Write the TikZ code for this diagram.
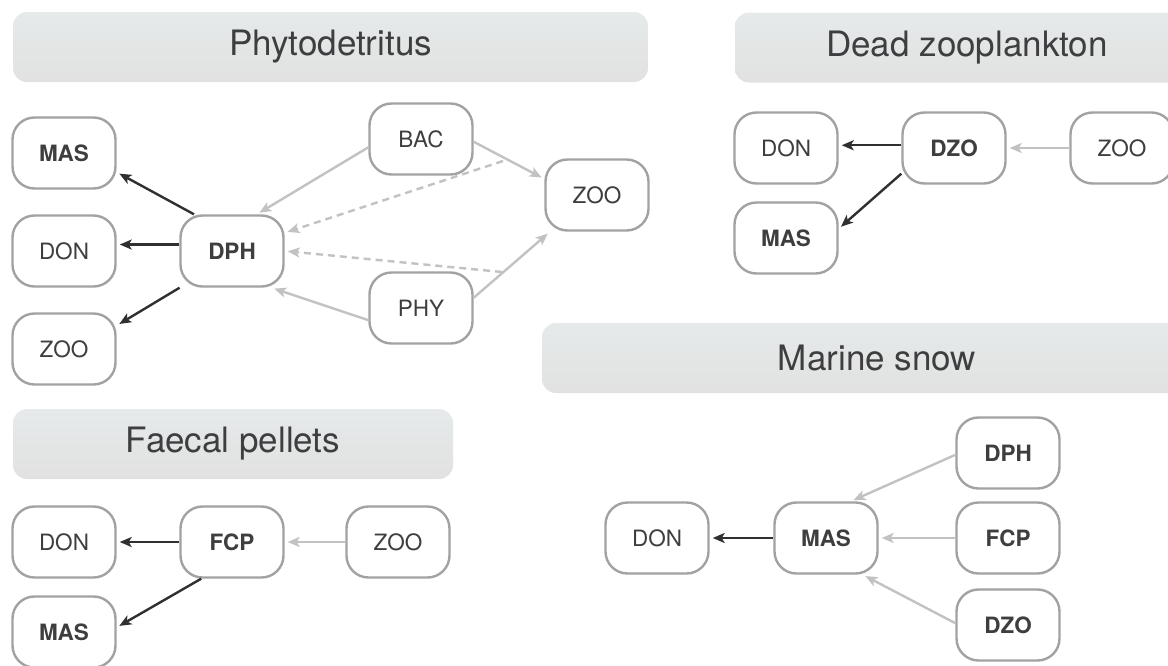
\documentclass[tikz,border=0pt]{standalone}
\usepackage{fontspec}
\setmainfont{TeX Gyre Heros}
\usetikzlibrary{arrows.meta}

\definecolor{boxgray}{HTML}{A2A2A2}
\definecolor{txtgray}{HTML}{3E3E40}
\definecolor{arrdark}{HTML}{303030}
\definecolor{arrlight}{HTML}{C2C2C2}
\definecolor{hdtop}{HTML}{E6EAEA}
\definecolor{hdbot}{HTML}{E1E1E1}

\tikzset{
	box/.style={draw=boxgray, line width=2.4pt, rounded corners=22pt,
		minimum width=103pt, minimum height=71pt, inner sep=0pt,
		text=txtgray, font=\fontsize{22.5}{26}\selectfont},
	pool/.style={box, font=\fontsize{22.5}{26}\selectfont\bfseries},
	header/.style={rounded corners=14pt, top color=hdtop, bottom color=hdbot,
		minimum height=70pt, inner sep=0pt, text=txtgray,
		font=\fontsize{35}{40}\selectfont},
	outflow/.style={-{Stealth[length=12pt,width=10pt,inset=3pt]},
		line width=2.4pt, color=arrdark, shorten >=3pt},
	inflow/.style={-{Stealth[length=12pt,width=10pt,inset=3pt]},
		line width=2.4pt, color=arrlight, shorten >=3pt},
	indirect/.style={inflow, dash pattern=on 7pt off 5pt}
}

\begin{document}
\begin{tikzpicture}[x=1pt,y=-1pt]
\useasboundingbox (0,0) rectangle (1168,665);
\clip (0,0) rectangle (1168,665);

% headers
\node[header, minimum width=635pt] (hphyto) at (330.5,47) {Phytodetritus};
\node[header, minimum width=464pt] (hdead) at (967,47.5) {Dead zooplankton};
\node[header, minimum width=670pt] (hsnow) at (877,358) {Marine snow};
\node[header, minimum width=440pt] (hfaecal) at (233,444) {Faecal pellets};

% Phytodetritus
\node[pool] (pMAS) at (64,153) {MAS};
\node[box] (pDON) at (64,251) {DON};
\node[box] (pZOO) at (64,349) {ZOO};
\node[pool] (pDPH) at (232,251) {DPH};
\node[box] (pBAC) at (421,139) {BAC};
\node[box] (pZOOr) at (597,195) {ZOO};
\node[box] (pPHY) at (421,308) {PHY};
\coordinate (pBZ) at (503,161); % on BAC -> ZOO
\coordinate (pPZ) at (502,272); % on PHY -> ZOO

% Dead zooplankton
\node[box] (dDON) at (786,148) {DON};
\node[pool] (dDZO) at (954,148) {DZO};
\node[box] (dZOO) at (1122,148) {ZOO};
\node[pool] (dMAS) at (786,238) {MAS};

% Marine snow
\node[box] (mDON) at (657,538) {DON};
\node[pool] (mMAS) at (826,538) {MAS};
\node[pool] (mDPH) at (1008,453) {DPH};
\node[pool] (mFCP) at (1008,538) {FCP};
\node[pool] (mDZO) at (1008,625) {DZO};

% Faecal pellets
\node[box] (fDON) at (64,542) {DON};
\node[pool] (fFCP) at (232,542) {FCP};
\node[box] (fZOO) at (398,542) {ZOO};
\node[pool] (fMAS) at (64,632) {MAS};

\path[outflow]
(pDPH.136) edge (pMAS.340)
(pDPH.173) edge (pDON.7)
(pDPH.215) edge (pZOO.24)
(dDZO.177) edge (dDON.3)
(dDZO.206) edge (dMAS.10)
(mMAS.west) edge (mDON.east)
(fFCP.west) edge (fDON.east)
(fFCP.230) edge (fMAS.5);

\path[inflow]
(pBAC.189) edge (pDPH.56)
(pBAC.357) edge (pZOOr.163)
(pPHY.11) edge (pZOOr.218)
(pPHY.193) edge (pDPH.317)
(dZOO.west) edge (dDZO.east)
(mDPH.182) edge (mMAS.56)
(mFCP.west) edge (mMAS.east)
(mDZO.178) edge (mMAS.315)
(fZOO.west) edge (fFCP.east);

\path[indirect]
(pBZ) edge (pDPH.19)
(pPZ) edge (pDPH.east);
\end{tikzpicture}
\end{document}
